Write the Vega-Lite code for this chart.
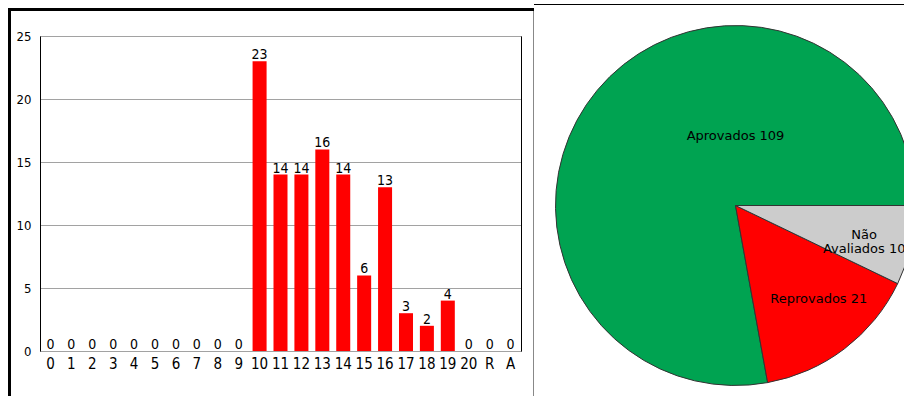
{
  "$schema": "https://vega.github.io/schema/vega-lite/v6.json",
  "padding": {"left": 8, "top": 4, "right": 0, "bottom": 0},
  "autosize": {"type": "pad"},
  "background": "white",
  "config": {
    "view": {"stroke": null},
    "font": "DejaVu Sans"
  },
  "datasets": {
    "notas": [
      {"nota": "0", "alunos": 0},
      {"nota": "1", "alunos": 0},
      {"nota": "2", "alunos": 0},
      {"nota": "3", "alunos": 0},
      {"nota": "4", "alunos": 0},
      {"nota": "5", "alunos": 0},
      {"nota": "6", "alunos": 0},
      {"nota": "7", "alunos": 0},
      {"nota": "8", "alunos": 0},
      {"nota": "9", "alunos": 0},
      {"nota": "10", "alunos": 23},
      {"nota": "11", "alunos": 14},
      {"nota": "12", "alunos": 14},
      {"nota": "13", "alunos": 16},
      {"nota": "14", "alunos": 14},
      {"nota": "15", "alunos": 6},
      {"nota": "16", "alunos": 13},
      {"nota": "17", "alunos": 3},
      {"nota": "18", "alunos": 2},
      {"nota": "19", "alunos": 4},
      {"nota": "20", "alunos": 0},
      {"nota": "R", "alunos": 0},
      {"nota": "A", "alunos": 0}
    ],
    "situacao": [
      {"status": "Aprovados", "alunos": 109},
      {"status": "Reprovados", "alunos": 21},
      {"status": "Não Avaliados", "alunos": 10}
    ],
    "vazio": []
  },
  "spacing": 0,
  "hconcat": [
    {
      "spacing": 0,
      "vconcat": [
        {"width": 526, "height": 4, "data": {"name": "vazio"}, "mark": "point", "encoding": {}, "view": {"fill": "white", "stroke": null}},
        {"width": 526, "height": 3, "data": {"name": "vazio"}, "mark": "point", "encoding": {}, "view": {"fill": "black", "stroke": null}},
        {
          "spacing": 0,
          "hconcat": [
            {"width": 3, "height": 385, "data": {"name": "vazio"}, "mark": "point", "encoding": {}, "view": {"fill": "black", "stroke": null}},
            {"width": 5, "height": 1, "data": {"name": "vazio"}, "mark": "point", "encoding": {}, "view": {"fill": "white", "stroke": null}},
            {
              "bounds": "flush",
              "spacing": 0,
              "vconcat": [
                {"width": 481, "height": 25, "data": {"name": "vazio"}, "mark": "point", "encoding": {}, "view": {"fill": "white", "stroke": null}},
                {
                  "width": 481,
                  "height": 315,
                  "data": {"name": "notas"},
                  "encoding": {
                    "x": {
                      "field": "nota",
                      "type": "nominal",
                      "sort": null,
                      "scale": {"paddingInner": 0.33, "paddingOuter": 0.165},
                      "axis": {
                        "title": null,
                        "orient": "bottom",
                        "domain": false,
                        "ticks": false,
                        "grid": false,
                        "labelAngle": 0,
                        "labelOverlap": false,
                        "labelFont": "DejaVu Sans Condensed",
                        "labelFontSize": 15,
                        "labelColor": "black",
                        "labelPadding": 5
                      }
                    }
                  },
                  "layer": [
                    {
                      "mark": {"type": "bar", "color": "#ff0000"},
                      "encoding": {
                        "y": {
                          "field": "alunos",
                          "type": "quantitative",
                          "scale": {"domain": [0, 25], "nice": false},
                          "axis": {
                            "title": null,
                            "values": [0, 5, 10, 15, 20, 25],
                            "domain": true,
                            "domainColor": "black",
                            "ticks": false,
                            "grid": true,
                            "gridDash": [1, 1],
                            "gridColor": "#444444",
                            "labelFont": "DejaVu Sans Condensed",
                            "labelFontSize": 13,
                            "labelColor": "black",
                            "labelPadding": 9
                          }
                        }
                      }
                    },
                    {
                      "mark": {
                        "type": "text",
                        "baseline": "alphabetic",
                        "dy": -2,
                        "font": "DejaVu Sans Condensed",
                        "fontSize": 14,
                        "color": "black"
                      },
                      "encoding": {
                        "y": {
                          "field": "alunos",
                          "type": "quantitative",
                          "axis": {
                            "title": null,
                            "orient": "right",
                            "labels": false,
                            "ticks": false,
                            "grid": false,
                            "domain": true,
                            "domainColor": "black"
                          }
                        },
                        "text": {"field": "alunos", "type": "quantitative"}
                      }
                    }
                  ],
                  "resolve": {"axis": {"y": "independent"}}
                }
              ]
            },
            {"width": 12, "height": 1, "data": {"name": "vazio"}, "mark": "point", "encoding": {}, "view": {"fill": "white", "stroke": null}},
            {"width": 1, "height": 385, "data": {"name": "vazio"}, "mark": "point", "encoding": {}, "view": {"fill": "#888888", "stroke": null}}
          ]
        }
      ]
    },
    {
      "bounds": "flush",
      "spacing": 0,
      "vconcat": [
        {"width": 370, "height": 1, "data": {"name": "vazio"}, "mark": "point", "encoding": {}, "view": {"fill": "black", "stroke": null}},
        {
          "width": 403,
          "height": 401,
          "view": {"fill": "white", "stroke": null},
          "data": {"name": "situacao"},
          "transform": [
            {"calculate": "replace(datum.status, ' ', '\\n') + ' ' + datum.alunos", "as": "rotulo"}
          ],
          "layer": [
            {
              "mark": {"type": "arc", "outerRadius": 180, "stroke": "#333333", "strokeWidth": 1},
              "encoding": {
                "theta": {"field": "alunos", "type": "quantitative", "stack": true, "scale": {"range": [1.5708, 7.854]}},
                "order": {"field": "alunos", "type": "quantitative", "sort": "ascending"},
                "color": {
                  "field": "status",
                  "type": "nominal",
                  "scale": {"domain": ["Aprovados", "Reprovados", "Não Avaliados"], "range": ["#00a351", "#ff0000", "#cccccc"]},
                  "legend": null
                }
              }
            },
            {
              "mark": {"type": "text", "radius": 132, "fontSize": 13, "color": "black", "lineBreak": "\n", "lineHeight": 14, "baseline": "middle", "align": "center"},
              "encoding": {
                "theta": {"field": "alunos", "type": "quantitative", "stack": true},
                "order": {"field": "alunos", "type": "quantitative", "sort": "ascending"},
                "text": {"condition": {"test": "datum.status !== 'Não Avaliados'", "value": ""}, "field": "rotulo", "type": "nominal"}
              }
            },
            {
              "mark": {"type": "text", "radius": 125, "thetaOffset": -0.0785, "fontSize": 13, "color": "black", "baseline": "middle", "align": "center"},
              "encoding": {
                "theta": {"field": "alunos", "type": "quantitative", "stack": true},
                "order": {"field": "alunos", "type": "quantitative", "sort": "ascending"},
                "text": {"condition": {"test": "datum.status !== 'Reprovados'", "value": ""}, "field": "rotulo", "type": "nominal"}
              }
            },
            {
              "transform": [{"filter": "datum.status === 'Aprovados'"}],
              "mark": {"type": "text", "dy": -70, "fontSize": 13, "color": "black", "baseline": "middle", "align": "center"},
              "encoding": {
                "text": {"field": "rotulo", "type": "nominal"}
              }
            }
          ]
        }
      ]
    }
  ]
}
